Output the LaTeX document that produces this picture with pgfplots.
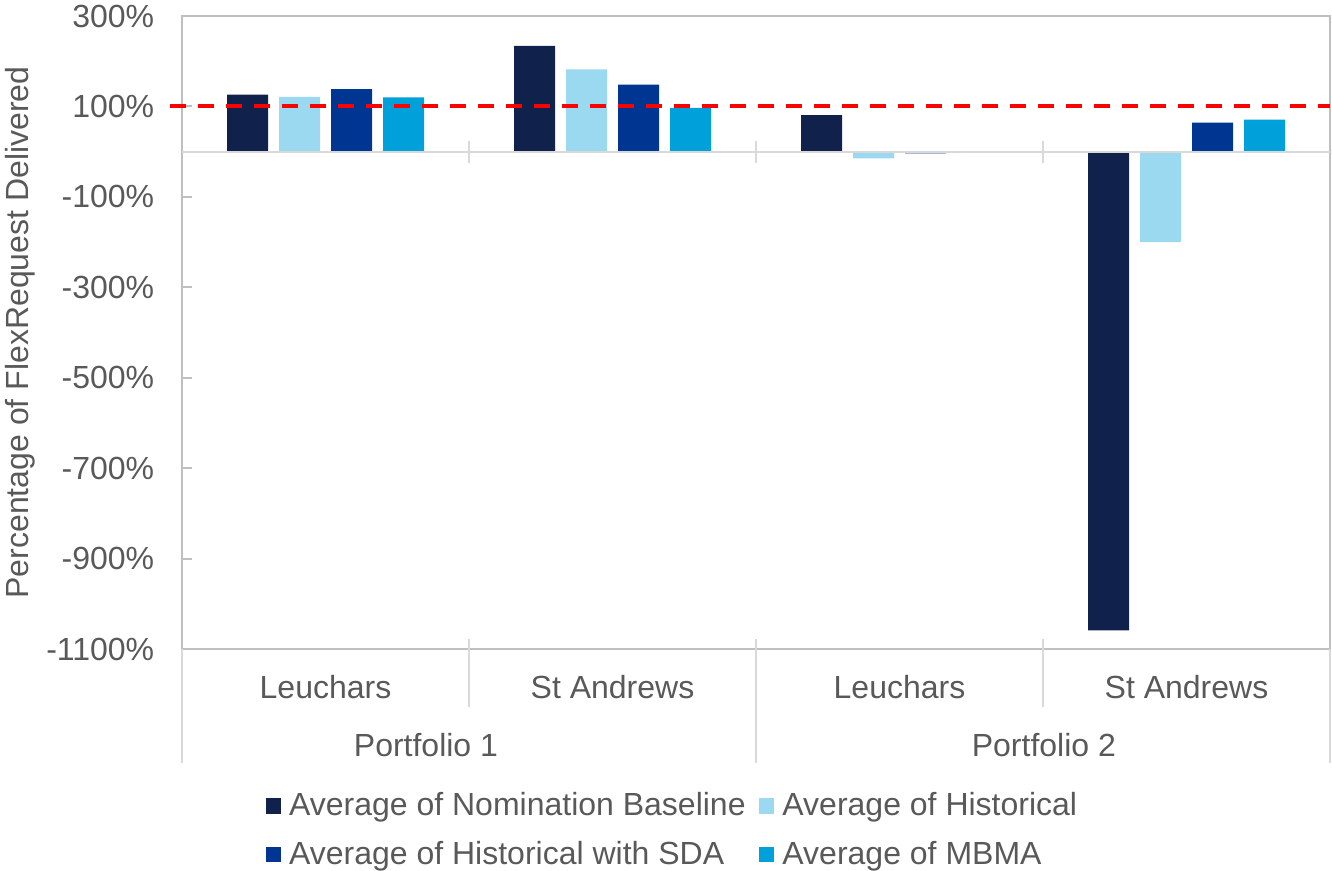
\documentclass[border=0pt]{standalone}
\usepackage{fontspec}
\setmainfont{Liberation Sans}
\usepackage{pgfplots}
\pgfplotsset{compat=1.18}
\definecolor{navy}{HTML}{10214B}
\definecolor{lblue}{HTML}{9BD9F0}
\definecolor{mblue}{HTML}{003591}
\definecolor{cyanb}{HTML}{00A1DA}
\definecolor{txt}{HTML}{595959}
\definecolor{axgray}{HTML}{BFBFBF}
\definecolor{sepgray}{HTML}{D9D9D9}
\begin{document}
\begin{tikzpicture}[font=\fontsize{12}{14.4}\selectfont]
\path[use as bounding box] (-68.25pt,-83.25pt) rectangle (431.25pt,243.375pt);
\begin{axis}[
  at={(0,0)}, anchor=south west,
  scale only axis, width=430.5pt, height=237.375pt,
  xmin=-0.5, xmax=3.5, ymin=-1100, ymax=300,
  ybar=4.125pt, bar width=15.375pt,
  clip=false,
  axis line style={axgray, line width=0.75pt},
  xtick={0,1,2,3},
  xticklabels={Leuchars,St Andrews,Leuchars,St Andrews},
  xtick style={draw=none},
  xticklabel style={anchor=center, yshift=-14.25pt, text=txt},
  ytick={-1100,-900,-700,-500,-300,-100,100,300},
  yticklabels={-1100\%,-900\%,-700\%,-500\%,-300\%,-100\%,100\%,300\%},
  ytick pos=left, tick align=inside,
  major tick length=3.75pt,
  ytick style={axgray, line width=0.75pt},
  yticklabel style={anchor=east, xshift=-6.9pt, text=txt},
  ylabel={Percentage of FlexRequest Delivered},
  ylabel style={at={(axis description cs:-0.1411,0.5)}, anchor=center, text=txt},
  legend columns=2,
  legend cell align=left,
  legend style={at={(axis description cs:0.0654,-0.209)}, anchor=north west,
    draw=none, fill=none, text=txt, font=\fontsize{12}{14.4}\selectfont,
    /tikz/every even column/.append style={column sep=3pt},
    row sep=4pt,
    nodes={inner sep=2pt}},
  legend image code/.code={\fill[#1] (0pt,-2.9pt) rectangle (5.8pt,2.9pt);},
]
\addplot[fill=navy, draw=none, bar shift=-29.25pt] coordinates {(0,126) (1,234) (2,81) (3,-1059)};
\addlegendentry{\hspace{1pt}Average of Nomination Baseline}
\addplot[fill=lblue, draw=none, bar shift=-9.75pt] coordinates {(0,121) (1,182) (2,-15) (3,-200)};
\addlegendentry{\hspace{1pt}Average of Historical}
\addplot[fill=mblue, draw=none, bar shift=9.75pt] coordinates {(0,138) (1,148) (2,-4) (3,64)};
\addlegendentry{\hspace{1pt}Average of Historical with SDA}
\addplot[fill=cyanb, draw=none, bar shift=29.25pt] coordinates {(0,120) (1,97) (2,-2) (3,71)};
\addlegendentry{\hspace{1pt}Average of MBMA}
% zero axis line with category ticks
\draw[sepgray, line width=0.75pt] (axis cs:-0.5,0) -- (axis cs:3.5,0);
\draw[sepgray, line width=0.75pt] ([yshift=4.1pt]axis cs:0.5,0) -- ([yshift=-4.1pt]axis cs:0.5,0);
\draw[sepgray, line width=0.75pt] ([yshift=4.1pt]axis cs:1.5,0) -- ([yshift=-4.1pt]axis cs:1.5,0);
\draw[sepgray, line width=0.75pt] ([yshift=4.1pt]axis cs:2.5,0) -- ([yshift=-4.1pt]axis cs:2.5,0);
% target line
\addplot[sharp plot, red, line width=1.5pt, dash pattern=on 6pt off 4.5pt, forget plot, mark=none] coordinates {(-0.542,100) (3.5,100)};
% multi-level category separators
\draw[sepgray, line width=0.75pt] ([yshift=3.75pt]axis cs:0.5,-1100) -- ([yshift=-21.75pt]axis cs:0.5,-1100);
\draw[sepgray, line width=0.75pt] ([yshift=3.75pt]axis cs:2.5,-1100) -- ([yshift=-21.75pt]axis cs:2.5,-1100);
\draw[sepgray, line width=0.75pt] ([yshift=3.75pt]axis cs:1.5,-1100) -- ([yshift=-42.75pt]axis cs:1.5,-1100);
\draw[sepgray, line width=0.75pt] (axis cs:-0.5,-1100) -- ([yshift=-42.75pt]axis cs:-0.5,-1100);
\draw[sepgray, line width=0.75pt] (axis cs:3.5,-1100) -- ([yshift=-42.75pt]axis cs:3.5,-1100);
\node[text=txt] at ([yshift=-36pt]axis cs:0.35,-1100) {Portfolio 1};
\node[text=txt] at ([yshift=-36pt]axis cs:2.503,-1100) {Portfolio 2};
\end{axis}
\end{tikzpicture}
\end{document}
